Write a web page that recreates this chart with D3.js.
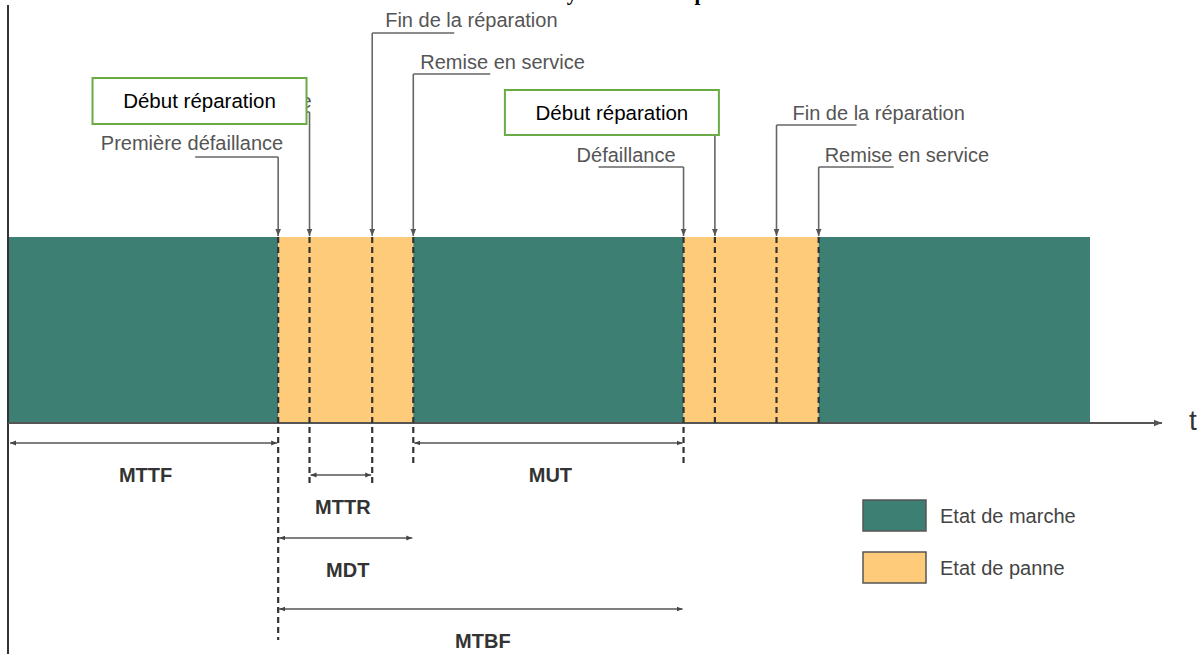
<!DOCTYPE html>
<html>
<head>
<meta charset="utf-8">
<script src="https://cdn.jsdelivr.net/npm/d3@7"></script>
<style>
  body { margin: 0; background: #fff; }
  svg { display: block; font-family: 'Liberation Sans', Arial, sans-serif; }
</style>
</head>
<body>
<script>
// time in arbitrary units along the horizontal axis
const stateKinds = ['marche', 'panne', 'marche', 'panne', 'marche']
const stateStarts = [0, 249, 374, 624, 749]
const stateEnds = [249, 374, 624, 749, 1000]

const eventNames = [
  'Première défaillance',
  'Début réparation',
  'Fin de la réparation',
  'Remise en service',
  'Défaillance',
  'Début réparation',
  'Fin de la réparation',
  'Remise en service'
]
const eventTimes = [249, 278, 336, 374, 624, 653, 710, 749]
// the only letter of the old label that peeks out from behind the first box
const peekLabel = 'e'

const intervalNames = ['MTTF', 'MTTR', 'MUT', 'MDT', 'MTBF']
const intervalStarts = [0, 278, 374, 249, 249]
const intervalEnds = [249, 336, 624, 374, 624]

const legendLabels = ['Etat de marche', 'Etat de panne']
const titleText = "Fonctionnement d'un système en temps réel"

const size = { width: 1202, height: 654 }
const colors = { marche: '#3e7f73', panne: '#fecb7a' }
const barTop = 237, barBottom = 423

const x = d3.scaleLinear().domain([0, 1000]).range([9, 1090])

const svg = d3.select('body').append('svg')
  .attr('width', size.width)
  .attr('height', size.height)

const defs = svg.append('defs')
function marker(id, color, w) {
  defs.append('marker')
    .attr('id', id)
    .attr('viewBox', '0 0 10 10')
    .attr('refX', 10).attr('refY', 5)
    .attr('markerWidth', w).attr('markerHeight', w)
    .attr('markerUnits', 'userSpaceOnUse')
    .attr('orient', 'auto-start-reverse')
    .append('path')
    .attr('d', 'M0,1 L10,5 L0,9 Z')
    .attr('fill', color)
}
marker('head', '#555', 7)
marker('small', '#444', 6)
marker('axis', '#555', 8)

// cropped title, only descenders visible
const title = svg.append('text')
  .attr('y', 0)
  .style('font-family', "'Liberation Serif', 'DejaVu Serif', serif")
  .style('font-weight', 'bold')
  .style('font-size', '28px')
  .attr('fill', '#000')
  .text(titleText)
{
  const node = title.node()
  const iy = titleText.indexOf('y'), ip = titleText.indexOf('p')
  let d = node.getSubStringLength(0, ip) - node.getSubStringLength(0, iy)
  const fs = 28 * 128 / d
  title.style('font-size', fs + 'px')
  const off = node.getSubStringLength(0, iy) + node.getSubStringLength(iy, 1) / 2
  title.attr('x', 572 - off)
}

// left vertical line
svg.append('line')
  .attr('x1', 8).attr('x2', 8).attr('y1', 5).attr('y2', size.height)
  .attr('stroke', '#333').attr('stroke-width', 2)

// state bars
svg.selectAll('rect.state')
  .data(stateKinds)
  .enter()
  .append('rect')
  .attr('class', 'state')
  .attr('x', (d, i) => x(stateStarts[i]))
  .attr('y', barTop)
  .attr('width', (d, i) => x(stateEnds[i]) - x(stateStarts[i]))
  .attr('height', barBottom - barTop)
  .attr('fill', d => colors[d])

// time axis
svg.append('line')
  .attr('x1', 8).attr('x2', 1162)
  .attr('y1', barBottom).attr('y2', barBottom)
  .attr('stroke', '#555').attr('stroke-width', 2)
  .attr('marker-end', 'url(#axis)')
svg.append('text')
  .attr('x', 1189).attr('y', 430)
  .style('font-size', '28px')
  .attr('fill', '#333')
  .text('t')

// dashed event lines, length below the bar per event
const dashBottom = [640, 486, 486, 464, 464, 423, 423, 423]
svg.selectAll('line.dash')
  .data(eventTimes)
  .enter()
  .append('line')
  .attr('class', 'dash')
  .attr('x1', d => x(d)).attr('x2', d => x(d))
  .attr('y1', barTop).attr('y2', (d, i) => dashBottom[i])
  .attr('stroke', '#333').attr('stroke-width', 2.2)
  .attr('stroke-dasharray', '6,4')

// event labels with leaders
const eventLayout = [
  { anchor: 'end', tx: 5, base: 150, ly: 157, ldx: -83 },
  { anchor: 'peek', tx: 2, base: 108, ly: 112, ldx: -4, box: [-217, 78, 214, 46] },
  { anchor: 'start', tx: 13, base: 27, ly: 33, ldx: 82 },
  { anchor: 'start', tx: 7, base: 69, ly: 74, ldx: 77 },
  { anchor: 'end', tx: -8, base: 162, ly: 167, ldx: -85 },
  { anchor: 'none', ly: 135, box: [-210, 90, 214, 45] },
  { anchor: 'start', tx: 16, base: 120, ly: 125, ldx: 80 },
  { anchor: 'start', tx: 6, base: 162, ly: 167, ldx: 75 }
]

eventTimes.forEach((t, i) => {
  const L = eventLayout[i]
  const ex = x(t)
  const g = svg.append('g')
  if (L.anchor !== 'none') {
    const peek = L.anchor === 'peek'
    g.append('text')
      .attr('x', ex + L.tx).attr('y', L.base)
      .attr('text-anchor', peek ? 'end' : L.anchor)
      .style('font-size', '20px')
      .attr('fill', '#555')
      .text(peek ? peekLabel : eventNames[i])
    g.append('line')
      .attr('x1', ex + L.ldx).attr('x2', ex)
      .attr('y1', L.ly).attr('y2', L.ly)
      .attr('stroke', '#666').attr('stroke-width', 1.6)
  }
  g.append('line')
    .attr('x1', ex).attr('x2', ex)
    .attr('y1', L.ly).attr('y2', barTop - 1)
    .attr('stroke', '#666').attr('stroke-width', 1.6)
    .attr('marker-end', 'url(#head)')
  if (L.box) {
    g.append('rect')
      .attr('x', ex + L.box[0]).attr('y', L.box[1])
      .attr('width', L.box[2]).attr('height', L.box[3])
      .attr('fill', '#fff')
      .attr('stroke', '#6aab45').attr('stroke-width', 2)
    g.append('text')
      .attr('x', ex + L.box[0] + L.box[2] / 2)
      .attr('y', L.box[1] + L.box[3] / 2 + 7)
      .attr('text-anchor', 'middle')
      .style('font-size', '20.5px')
      .attr('fill', '#000')
      .text(eventNames[i])
  }
})

// interval arrows below the axis
const intervalRowY = [443, 475, 443, 538, 609]
intervalNames.forEach((name, i) => {
  const x0 = x(intervalStarts[i]), x1 = x(intervalEnds[i])
  const y = intervalRowY[i]
  svg.append('line')
    .attr('x1', x0 + 1).attr('x2', x1 - 1)
    .attr('y1', y).attr('y2', y)
    .attr('stroke', '#555').attr('stroke-width', 1.5)
    .attr('marker-start', 'url(#small)')
    .attr('marker-end', 'url(#small)')
  svg.append('text')
    .attr('x', (x0 + x1) / 2 + 2).attr('y', y + 39)
    .attr('text-anchor', 'middle')
    .style('font-size', '20px')
    .style('font-weight', 'bold')
    .attr('fill', '#333')
    .text(name)
})

// legend
const legend = svg.selectAll('g.legend')
  .data(legendLabels)
  .enter()
  .append('g')
  .attr('class', 'legend')
  .attr('transform', (d, i) => 'translate(863,' + (500 + i * 52) + ')')
legend.append('rect')
  .attr('width', 63).attr('height', 31)
  .attr('fill', (d, i) => colors[['marche', 'panne'][i]])
  .attr('stroke', '#555').attr('stroke-width', 1.5)
legend.append('text')
  .attr('x', 77).attr('y', 23)
  .style('font-size', '20px')
  .attr('fill', '#444')
  .text(d => d)
</script>
</body>
</html>
